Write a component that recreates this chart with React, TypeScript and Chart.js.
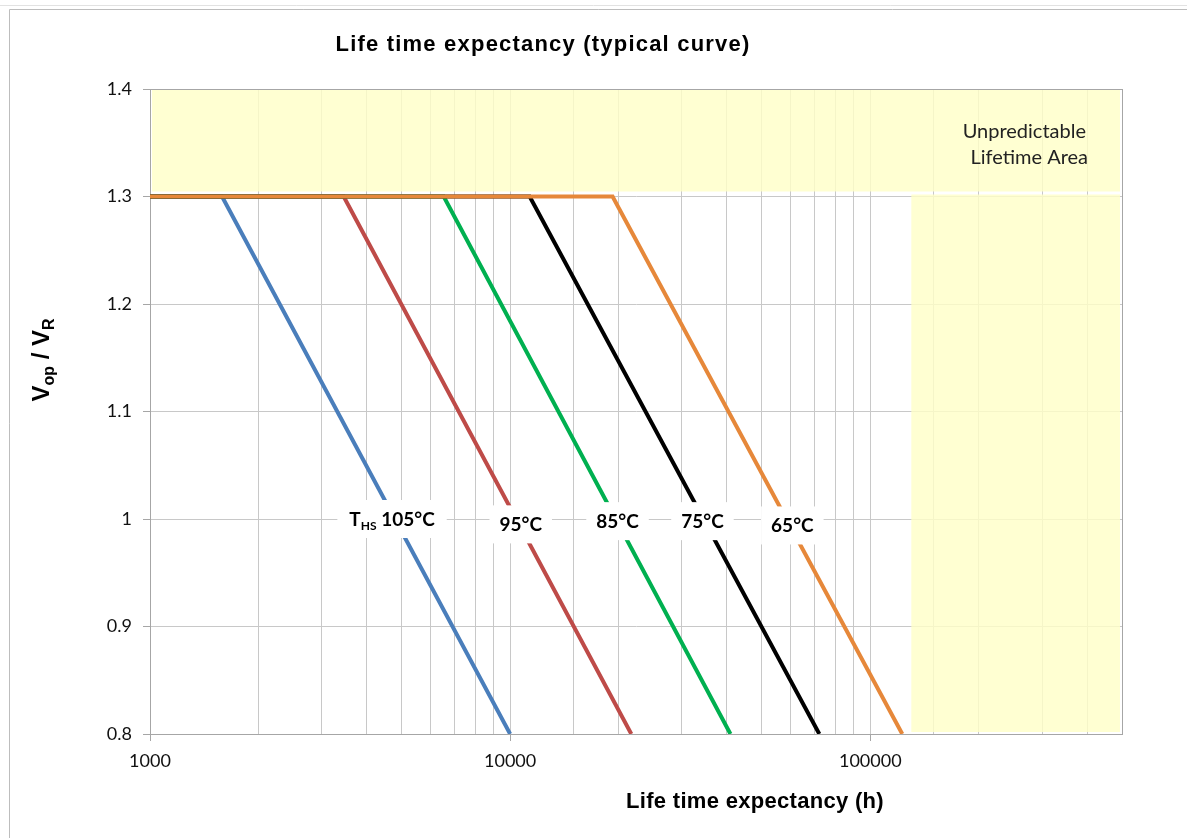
import React, { useEffect, useRef } from "react";
import { Chart, registerables } from "chart.js";

Chart.register(...registerables);

// ---- data ----
const series105 = { hours: [1000, 1585, 10000], ratio: [1.3, 1.3, 0.8] };
const series95 = { hours: [1000, 3450, 21700], ratio: [1.3, 1.3, 0.8] };
const series85 = { hours: [1000, 6540, 40900], ratio: [1.3, 1.3, 0.8] };
const series75 = { hours: [1000, 11330, 72200], ratio: [1.3, 1.3, 0.8] };
const series65 = { hours: [1000, 19250, 122700], ratio: [1.3, 1.3, 0.8] };

const seriesNames = ["105°C", "95°C", "85°C", "75°C", "65°C"];
const seriesColors = ["#4A7EBB", "#BE4B48", "#00B050", "#000000", "#E6883A"];

const xMin = 1000;
const xMax = 500000;
const yMin = 0.8;
const yMax = 1.4;
const xLabelTicks = [1000, 10000, 100000];

// label anchors (data space)
const labelHours = [4700, 10700, 19870, 34200, 60760];
const labelRatio = [1.0, 0.995, 0.998, 0.998, 0.994];

// unpredictable region
const unpredictableTopRatio = [1.3, 1.4];
const unpredictableRightHours = [130000, 500000];

const TITLE = "Life time expectancy (typical curve)";
const X_TITLE = "Life time expectancy (h)";
const AREA_TEXT = ["Unpredictable", "Lifetime Area"];

const toPoints = (s: { hours: number[]; ratio: number[] }) =>
  s.hours.map((h, i) => ({ x: h, y: s.ratio[i] }));

const decorPlugin = {
  id: "decor",
  beforeDraw(chart: any) {
    const ctx = chart.ctx;
    const W = chart.width;
    const H = chart.height;
    ctx.save();
    ctx.fillStyle = "#ffffff";
    ctx.fillRect(0, 0, W, H);
    // spreadsheet line
    ctx.strokeStyle = "#E2E2E2";
    ctx.lineWidth = 1;
    ctx.beginPath();
    ctx.moveTo(0, 5.5);
    ctx.lineTo(W, 5.5);
    ctx.stroke();
    // chart frame
    ctx.strokeStyle = "#BDBDBD";
    ctx.beginPath();
    ctx.moveTo(9.5, H);
    ctx.lineTo(9.5, 9.5);
    ctx.lineTo(W, 9.5);
    ctx.stroke();

    // title
    ctx.fillStyle = "#000";
    ctx.textAlign = "center";
    ctx.textBaseline = "middle";
    ctx.font = "bold 22px 'Liberation Sans', Arial, sans-serif";
    try { (ctx as any).letterSpacing = "1.2px"; } catch (e) {}
    ctx.fillText(TITLE, 543, 45);
    try { (ctx as any).letterSpacing = "0.3px"; } catch (e) {}
    ctx.fillText(X_TITLE, 755, 802);
    try { (ctx as any).letterSpacing = "0px"; } catch (e) {}

    // y title with subscripts
    const parts = [
      { t: "V", size: 24, dy: 0 },
      { t: "op", size: 16, dy: 5 },
      { t: " / V", size: 24, dy: 0 },
      { t: "R", size: 16, dy: 5 },
    ];
    let total = 0;
    for (const p of parts) {
      ctx.font = `bold ${p.size}px 'Liberation Sans', Arial, sans-serif`;
      total += ctx.measureText(p.t).width;
    }
    ctx.translate(41, 360);
    ctx.rotate(-Math.PI / 2);
    ctx.textAlign = "left";
    ctx.textBaseline = "alphabetic";
    let cx = -total / 2;
    for (const p of parts) {
      ctx.font = `bold ${p.size}px 'Liberation Sans', Arial, sans-serif`;
      ctx.fillText(p.t, cx, 8 + p.dy);
      cx += ctx.measureText(p.t).width;
    }
    ctx.restore();
  },
  beforeDatasetsDraw(chart: any) {
    const ctx = chart.ctx;
    const xs = chart.scales.x;
    const ys = chart.scales.y;
    const a = chart.chartArea;
    ctx.save();
    ctx.fillStyle = "rgba(255,255,200,0.82)";
    // top band
    const yTopA = ys.getPixelForValue(unpredictableTopRatio[1]);
    const yTopB = ys.getPixelForValue(unpredictableTopRatio[0]) - 5;
    ctx.fillRect(a.left + 2, yTopA + 1, a.right - a.left - 4, yTopB - yTopA - 1);
    // right band
    const xr0 = xs.getPixelForValue(unpredictableRightHours[0]);
    const xr1 = xs.getPixelForValue(unpredictableRightHours[1]);
    const yr0 = ys.getPixelForValue(unpredictableTopRatio[0]) - 2;
    const yr1 = ys.getPixelForValue(yMin) - 2;
    ctx.fillRect(xr0, yr0, xr1 - xr0 - 2, yr1 - yr0);
    // plot border
    ctx.strokeStyle = "#A6A6A6";
    ctx.lineWidth = 1;
    ctx.strokeRect(Math.round(a.left) + 0.5, Math.round(a.top) + 0.5, Math.round(a.right - a.left), Math.round(a.bottom - a.top));
    ctx.restore();
  },
  afterDatasetsDraw(chart: any) {
    const ctx = chart.ctx;
    const xs = chart.scales.x;
    const ys = chart.scales.y;
    const a = chart.chartArea;
    ctx.save();
    const bold = (s: number) => `bold ${s}px Lato, 'Open Sans', sans-serif`;
    labelHours.forEach((h, i) => {
      const px = xs.getPixelForValue(h);
      const py = ys.getPixelForValue(labelRatio[i]);
      let parts: { t: string; size: number; dy: number }[];
      if (i === 0) {
        parts = [
          { t: "T", size: 19, dy: 0 },
          { t: "HS", size: 12, dy: 4 },
          { t: " " + seriesNames[0], size: 19, dy: 0 },
        ];
      } else {
        parts = [{ t: seriesNames[i], size: 19, dy: 0 }];
      }
      let w = 0;
      for (const p of parts) {
        ctx.font = bold(p.size);
        w += ctx.measureText(p.t).width;
      }
      const padX = i === 0 ? 12 : 10;
      ctx.fillStyle = "#ffffff";
      ctx.fillRect(px - w / 2 - padX, py - 19, w + padX * 2, 38);
      ctx.fillStyle = "#000";
      ctx.textAlign = "left";
      ctx.textBaseline = "alphabetic";
      let cx = px - w / 2;
      for (const p of parts) {
        ctx.font = bold(p.size);
        ctx.fillText(p.t, cx, py + 7 + p.dy);
        cx += ctx.measureText(p.t).width;
      }
    });
    // area text
    ctx.fillStyle = "#222";
    ctx.font = "20px Lato, 'Open Sans', sans-serif";
    ctx.textAlign = "right";
    ctx.textBaseline = "middle";
    ctx.fillText(AREA_TEXT[0], a.right - 36, a.top + 43);
    ctx.fillText(AREA_TEXT[1], a.right - 34, a.top + 69);
    ctx.restore();
  },
};

export default function App() {
  const ref = useRef<HTMLCanvasElement | null>(null);
  useEffect(() => {
    if (!ref.current) return;
    const allSeries = [series105, series95, series85, series75, series65];
    const chart = new Chart(ref.current, {
      type: "line",
      data: {
        datasets: allSeries.map((s, i) => ({
          label: seriesNames[i],
          data: toPoints(s),
          borderColor: seriesColors[i],
          backgroundColor: seriesColors[i],
          borderWidth: 4,
          pointRadius: 0,
          tension: 0,
          fill: false,
          order: 5 - i,
        })),
      },
      options: {
        responsive: false,
        animation: false,
        events: [],
        layout: { padding: { top: 89, right: 65, left: 0, bottom: 0 } },
        plugins: {
          legend: { display: false },
          title: { display: false },
          tooltip: { enabled: false },
        },
        scales: {
          x: {
            type: "logarithmic",
            min: xMin,
            max: xMax,
            afterFit: (s: any) => {
              s.height = 104;
            },
            border: { display: true, color: "#A6A6A6" },
            grid: {
              color: "#C8C8C8",
              lineWidth: 1,
              tickLength: 7,
              tickColor: (c: any) =>
                c.tick && xLabelTicks.includes(c.tick.value) ? "#A6A6A6" : "rgba(0,0,0,0)",
            },
            ticks: {
              autoSkip: false,
              maxRotation: 0,
              minRotation: 0,
              padding: 9,
              color: "#111",
              font: { family: "Lato, 'Open Sans', sans-serif", size: 18 },
              callback: (v: any) => (xLabelTicks.includes(Number(v)) ? String(v) : ""),
            },
          },
          y: {
            type: "linear",
            min: yMin,
            max: yMax,
            afterFit: (s: any) => {
              s.width = 150;
            },
            border: { display: true, color: "#A6A6A6" },
            grid: { color: "#C8C8C8", lineWidth: 1, tickLength: 7, tickColor: "#A6A6A6" },
            ticks: {
              stepSize: 0.1,
              padding: 11,
              color: "#111",
              font: { family: "Lato, 'Open Sans', sans-serif", size: 18 },
              callback: (v: any) => String(Number(Number(v).toFixed(1))),
            },
          },
        },
      },
      plugins: [decorPlugin],
    });
    return () => chart.destroy();
  }, []);
  return (
    <div style={{ position: "absolute", left: 0, top: 0, width: 1187, height: 838, background: "#fff" }}>
      <canvas ref={ref} width={1187} height={838} style={{ display: "block" }} />
    </div>
  );
}
